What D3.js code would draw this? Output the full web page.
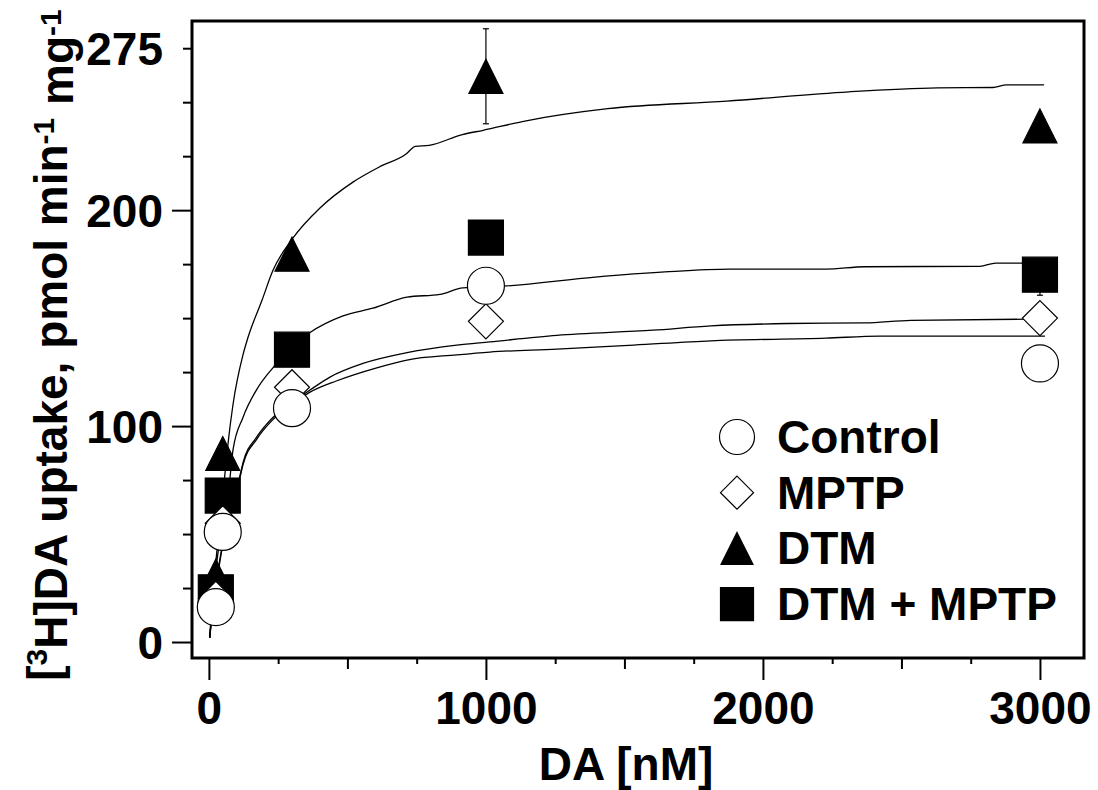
<!DOCTYPE html>
<html>
<head>
<meta charset="utf-8">
<script src="https://cdn.jsdelivr.net/npm/d3@7"></script>
<style>
  html, body { margin: 0; padding: 0; background: #fff; }
  svg { display: block; }
  text { font-family: "Liberation Sans", Arial, Helvetica, sans-serif; font-weight: bold; fill: #000; }
</style>
</head>
<body>
<svg id="chart" width="1098" height="790"></svg>
<script>
// Dopamine concentrations (nM) at which uptake was measured
const conc = [25, 50, 300, 1000, 3000];

// Measured [3H]DA uptake (pmol/min/mg) per treatment group
const controlVals  = [16.2, 51, 108.3, 165, 129];
const mptpVals     = [20, 55, 118, 148.5, 150];
const dtmVals      = [30.5, 87.3, 179.6, 262, 239];
const dtmMptpVals  = [23, 67.8, 135.4, 187.3, 170.1];

// Error bar extents above / below the mean (0 = not shown)
const dtmErrUp     = [0, 0, 0, 22, 0];
const dtmErrDown   = [0, 0, 0, 22, 0];
const dtmMptpErrUp   = [0, 0, 0, 0, 5];
const dtmMptpErrDown = [0, 0, 0, 0, 9.5];

// Saturation fit curves (concentration, uptake)
const dtmFitX = [3, 10, 25, 40, 58, 70, 87, 123, 141, 191, 231, 303, 401, 520, 615, 712, 745, 795, 915, 990, 1150, 1440, 1870, 2310, 2630, 2830, 2880, 3015];
const dtmFitY = [2, 16, 37, 57, 78, 93, 110, 133, 141, 158, 172, 187, 201, 213, 220, 226, 229.5, 230, 235, 237, 241.5, 247, 250.5, 254.8, 256.6, 256.8, 258, 258];

const dtmMptpFitX = [3, 10, 25, 50, 76, 87, 123, 173, 231, 300, 361, 484, 592, 715, 834, 917, 1061, 1394, 1646, 1881, 2227, 2368, 2783, 2840, 3000];
const dtmMptpFitY = [2, 14, 33, 57, 76, 89, 104, 117, 127, 137, 143, 151, 154.6, 159.7, 161, 164, 164.8, 169, 171.4, 172.7, 172.7, 173.8, 174, 175.5, 175.5];

const mptpFitX = [3, 10, 25, 50, 80, 112, 123, 173, 231, 300, 365, 437, 556, 715, 895, 1014, 1256, 1603, 1812, 2090, 2368, 2534, 2949, 3018];
const mptpFitY = [2, 11, 26, 46, 63, 77, 83, 95, 104, 111, 116.7, 122.7, 129, 134, 137.5, 139, 142, 144.4, 146.4, 147.5, 147.8, 149, 149.5, 149.5];

const controlFitX = [3, 10, 25, 50, 80, 112, 123, 173, 231, 300, 365, 462, 606, 715, 895, 1014, 1256, 1534, 1812, 2227, 2422, 3018];
const controlFitY = [2, 11, 25, 45, 62, 76, 82, 94, 103, 110, 115.7, 121, 127, 130.6, 133, 134.3, 135.6, 137.5, 139.5, 140.7, 141.7, 141.7];

// Axis ticks and labels
const xTicks = d3.range(0, 3001, 250);
const xLabeled = [0, 1000, 2000, 3000];
const yTicks = d3.range(0, 276, 25);
const yLabeled = [0, 100, 200, 275];
const yMajor = [0, 100, 200];

const legendNames = ["Control", "MPTP", "DTM", "DTM + MPTP"];

// ---- layout ----
const svg = d3.select("#chart");
const frame = { left: 192, right: 1084, top: 21, bottom: 658 };

const x = d3.scaleLinear().domain([-61, 3159]).range([frame.left, frame.right]);
const y = d3.scaleLinear().domain([-7.4, 287.6]).range([frame.bottom, frame.top]);

// ---- marker shapes ----
const shapes = {
  circle: s => { const r = s / 2; return `M${r},0A${r},${r},0,1,1,${-r},0A${r},${r},0,1,1,${r},0Z`; },
  square: s => { const h = s / 2; return `M${-h},${-h}H${h}V${h}H${-h}Z`; },
  triangle: s => { const h = s / 2; return `M0,${-h}L${h},${h}L${-h},${h}Z`; },
  diamond: s => { const h = s / 2; return `M0,${-h}L${h},0L0,${h}L${-h},0Z`; }
};

// Draw order: triangles, squares, diamonds, circles on top
const series = [
  { name: "DTM",        vals: dtmVals,     up: dtmErrUp,     down: dtmErrDown,     shape: "triangle", size: 34, fill: "#000" },
  { name: "DTM + MPTP", vals: dtmMptpVals, up: dtmMptpErrUp, down: dtmMptpErrDown, shape: "square",   size: 35, fill: "#000" },
  { name: "MPTP",       vals: mptpVals,    up: null,         down: null,           shape: "diamond",  size: 35, fill: "#fff" },
  { name: "Control",    vals: controlVals, up: null,         down: null,           shape: "circle",   size: 37, fill: "#fff" }
];

const fits = [
  [dtmFitX, dtmFitY],
  [dtmMptpFitX, dtmMptpFitY],
  [mptpFitX, mptpFitY],
  [controlFitX, controlFitY]
];

// ---- axes ----
const yAxis = d3.axisLeft(y)
  .tickValues(yTicks)
  .tickSize(8)
  .tickFormat(d => yLabeled.includes(d) ? d : "");
const gy = svg.append("g").attr("transform", `translate(${frame.left},0)`).call(yAxis);
gy.select(".domain").remove();
gy.selectAll(".tick line")
  .attr("stroke", "#000").attr("stroke-width", 2)
  .attr("x2", d => yMajor.includes(d) ? -20 : -9);
gy.selectAll(".tick text")
  .attr("x", -29).attr("dy", "0.36em")
  .style("font-size", "46px");

const xAxis = d3.axisBottom(x)
  .tickValues(xTicks)
  .tickSize(6)
  .tickFormat(d => xLabeled.includes(d) ? d : "");
const gx = svg.append("g").attr("transform", `translate(0,${frame.bottom})`).call(xAxis);
gx.select(".domain").remove();
gx.selectAll(".tick line")
  .attr("stroke", "#000").attr("stroke-width", 2)
  .attr("y2", d => d % 1000 === 0 ? 22 : (d % 500 === 0 ? 11 : 6));
gx.selectAll(".tick text")
  .attr("y", 66).attr("dy", 0)
  .style("font-size", "46px");

// ---- frame ----
svg.append("rect")
  .attr("x", frame.left).attr("y", frame.top)
  .attr("width", frame.right - frame.left).attr("height", frame.bottom - frame.top)
  .attr("fill", "none").attr("stroke", "#000").attr("stroke-width", 3);

// ---- fitted curves ----
const line = d3.line().x(d => x(d[0])).y(d => y(d[1])).curve(d3.curveMonotoneX);
svg.append("g").selectAll("path")
  .data(fits)
  .join("path")
  .attr("d", f => line(f[0].map((v, i) => [v, f[1][i]])))
  .attr("fill", "none").attr("stroke", "#000").attr("stroke-width", 1.3);

// ---- error bars ----
const eb = svg.append("g").attr("stroke", "#000").attr("stroke-width", 1.2);
series.filter(s => s.up).forEach(s => {
  conc.forEach((c, i) => {
    const eu = s.up[i], ed = s.down[i];
    if (!eu && !ed) return;
    const cx = x(c), y1 = y(s.vals[i] + eu), y0 = y(s.vals[i] - ed);
    eb.append("line").attr("x1", cx).attr("x2", cx).attr("y1", y1).attr("y2", y0);
    eb.append("line").attr("x1", cx - 3).attr("x2", cx + 3).attr("y1", y1).attr("y2", y1);
    eb.append("line").attr("x1", cx - 3).attr("x2", cx + 3).attr("y1", y0).attr("y2", y0);
  });
});

// ---- markers ----
series.forEach(s => {
  svg.append("g").selectAll("path")
    .data(conc.map((c, i) => [c, s.vals[i]]))
    .join("path")
    .attr("transform", d => `translate(${x(d[0])},${y(d[1])})`)
    .attr("d", shapes[s.shape](s.size))
    .attr("fill", s.fill).attr("stroke", "#000").attr("stroke-width", 1.2);
});

// ---- legend ----
const legendSeries = legendNames.map(n => series.find(s => s.name === n));
const legend = svg.append("g").attr("transform", "translate(737,437)");
legendSeries.forEach((s, i) => {
  const row = legend.append("g").attr("transform", `translate(0,${i * 55.7})`);
  row.append("path").attr("d", shapes[s.shape](s.size - 2))
    .attr("fill", s.fill).attr("stroke", "#000").attr("stroke-width", 1.2);
  row.append("text").attr("x", 40).attr("y", 16)
    .style("font-size", "46px").text(s.name);
});

// ---- axis titles ----
svg.append("text")
  .attr("x", 626).attr("y", 780)
  .attr("text-anchor", "middle")
  .style("font-size", "46px")
  .text("DA [nM]");

const yt = svg.append("text")
  .attr("transform", "translate(60,345) rotate(-90)")
  .attr("text-anchor", "middle")
  .style("font-size", "46px");
yt.append("tspan").text("[");
yt.append("tspan").attr("dy", "-0.42em").style("font-size", "30px").text("3");
yt.append("tspan").attr("dy", "0.42em").text("H]DA uptake, pmol min");
yt.append("tspan").attr("dy", "-0.42em").style("font-size", "30px").text("-1");
yt.append("tspan").attr("dy", "0.42em").text(" mg");
yt.append("tspan").attr("dy", "-0.42em").style("font-size", "30px").text("-1");
</script>
</body>
</html>
